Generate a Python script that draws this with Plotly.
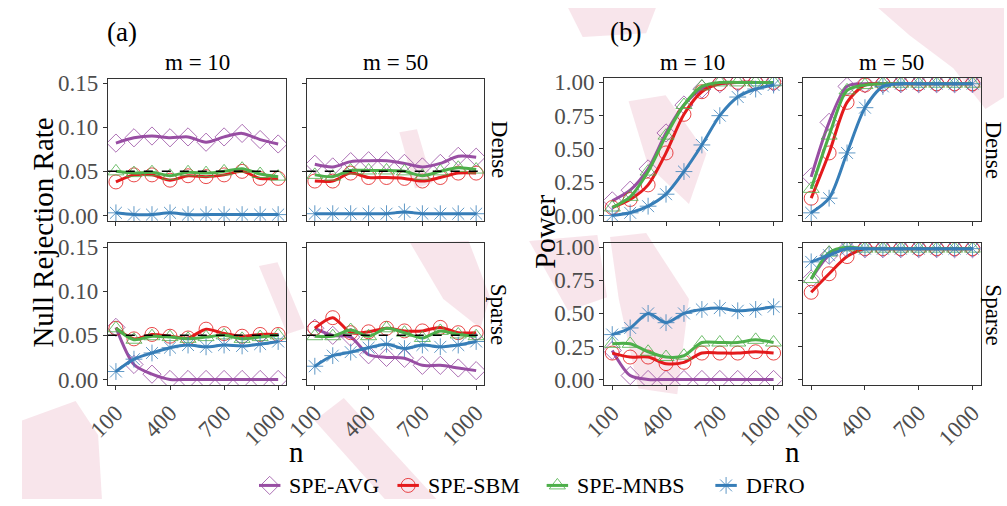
import plotly.graph_objects as go

# Sample sizes on the x axis
n_vals = [100, 200, 300, 400, 500, 600, 700, 800, 900, 1000]
methods = ["SPE-AVG", "SPE-SBM", "SPE-MNBS", "DFRO"]

# (a) Null rejection rate
size_m10_dense_avg = [0.082, 0.088, 0.090, 0.088, 0.089, 0.083, 0.089, 0.093, 0.086, 0.081]
size_m10_dense_sbm = [0.038, 0.046, 0.046, 0.040, 0.045, 0.044, 0.046, 0.050, 0.042, 0.042]
size_m10_dense_mnbs = [0.050, 0.048, 0.049, 0.045, 0.049, 0.048, 0.050, 0.053, 0.047, 0.044]
size_m10_dense_dfro = [0.003, 0.001, 0.001, 0.003, 0.001, 0.001, 0.001, 0.001, 0.001, 0.001]

size_m50_dense_avg = [0.058, 0.055, 0.061, 0.062, 0.062, 0.059, 0.055, 0.059, 0.067, 0.066]
size_m50_dense_sbm = [0.039, 0.039, 0.048, 0.043, 0.043, 0.042, 0.039, 0.043, 0.048, 0.048]
size_m50_dense_mnbs = [0.046, 0.044, 0.051, 0.051, 0.051, 0.050, 0.045, 0.050, 0.054, 0.052]
size_m50_dense_dfro = [0.002, 0.002, 0.002, 0.002, 0.002, 0.004, 0.002, 0.002, 0.002, 0.002]

size_m10_sparse_avg = [0.059, 0.017, 0.006, 0.000, 0.000, 0.000, 0.000, 0.000, 0.000, 0.000]
size_m10_sparse_sbm = [0.058, 0.046, 0.051, 0.049, 0.047, 0.057, 0.052, 0.049, 0.051, 0.051]
size_m10_sparse_mnbs = [0.058, 0.045, 0.049, 0.048, 0.046, 0.048, 0.050, 0.046, 0.048, 0.050]
size_m10_sparse_dfro = [0.009, 0.023, 0.030, 0.036, 0.039, 0.037, 0.039, 0.038, 0.040, 0.043]

size_m50_sparse_avg = [0.058, 0.050, 0.048, 0.028, 0.025, 0.024, 0.016, 0.016, 0.013, 0.010]
size_m50_sparse_sbm = [0.058, 0.070, 0.053, 0.054, 0.058, 0.055, 0.055, 0.059, 0.053, 0.053]
size_m50_sparse_mnbs = [0.049, 0.049, 0.056, 0.049, 0.058, 0.053, 0.047, 0.055, 0.051, 0.049]
size_m50_sparse_dfro = [0.015, 0.027, 0.031, 0.036, 0.040, 0.035, 0.039, 0.037, 0.039, 0.043]

# (b) Power
power_m10_dense_avg = [0.11, 0.19, 0.35, 0.62, 0.83, 0.95, 0.99, 1.00, 1.00, 1.00]
power_m10_dense_sbm = [0.06, 0.12, 0.23, 0.47, 0.76, 0.93, 0.99, 1.00, 1.00, 1.00]
power_m10_dense_mnbs = [0.06, 0.14, 0.33, 0.60, 0.83, 0.97, 1.00, 1.00, 1.00, 1.00]
power_m10_dense_dfro = [0.00, 0.02, 0.07, 0.16, 0.33, 0.53, 0.75, 0.89, 0.95, 0.98]

power_m50_dense_avg = [0.29, 0.70, 0.97, 0.99, 0.99, 0.99, 0.99, 0.99, 0.99, 0.99]
power_m50_dense_sbm = [0.13, 0.47, 0.85, 0.98, 0.99, 0.99, 0.99, 0.99, 0.99, 0.99]
power_m50_dense_mnbs = [0.20, 0.60, 0.94, 0.98, 0.99, 0.99, 0.99, 0.99, 0.99, 0.99]
power_m50_dense_dfro = [0.02, 0.13, 0.47, 0.81, 0.97, 0.99, 0.99, 0.99, 0.99, 0.99]

power_m10_sparse_avg = [0.22, 0.03, 0.00, 0.00, 0.00, 0.00, 0.00, 0.00, 0.00, 0.00]
power_m10_sparse_sbm = [0.20, 0.17, 0.17, 0.12, 0.13, 0.20, 0.20, 0.20, 0.21, 0.20]
power_m10_sparse_mnbs = [0.27, 0.27, 0.21, 0.17, 0.18, 0.28, 0.28, 0.28, 0.30, 0.28]
power_m10_sparse_dfro = [0.34, 0.39, 0.50, 0.43, 0.50, 0.53, 0.54, 0.52, 0.53, 0.55]

power_m50_sparse_avg = [0.76, 0.94, 0.99, 0.99, 0.99, 0.99, 0.99, 0.99, 0.99, 0.99]
power_m50_sparse_sbm = [0.66, 0.80, 0.93, 0.99, 0.99, 0.99, 0.99, 0.99, 0.99, 0.99]
power_m50_sparse_mnbs = [0.76, 0.96, 1.00, 0.99, 0.99, 0.99, 0.99, 0.99, 0.99, 0.99]
power_m50_sparse_dfro = [0.89, 0.94, 0.99, 0.99, 0.99, 0.99, 0.99, 0.99, 0.99, 0.99]

x_ticks = [100, 400, 700, 1000]
size_ticks = [0.00, 0.05, 0.10, 0.15]
size_tick_text = ["0.00", "0.05", "0.10", "0.15"]
power_ticks = [0.00, 0.25, 0.50, 0.75, 1.00]
power_tick_text = ["0.00", "0.25", "0.50", "0.75", "1.00"]
nominal_level = 0.05

colors = {"SPE-AVG": "#984EA3", "SPE-SBM": "#E41A1C", "SPE-MNBS": "#4DAF4A", "DFRO": "#377EB8"}
marker_colors = {"SPE-AVG": "rgba(152,78,163,0.8)", "SPE-SBM": "rgba(228,26,28,0.8)",
                 "SPE-MNBS": "rgba(77,175,74,0.8)", "DFRO": "rgba(55,126,184,0.8)"}
symbols = {"SPE-AVG": "diamond-open", "SPE-SBM": "circle-open",
           "SPE-MNBS": "triangle-up-open", "DFRO": "asterisk-open"}

W, H = 1007, 506
FONT = "Liberation Serif, Times New Roman, serif"


def px(x):
    return x / W


def py(y):
    return 1 - y / H


# (panel pixel box: left, right, top, bottom), series, y setup
panels = [
    ((88, 271, 73, 220), [size_m10_dense_avg, size_m10_dense_sbm, size_m10_dense_mnbs, size_m10_dense_dfro], "a", True, False),
    ((292, 474, 73, 220), [size_m50_dense_avg, size_m50_dense_sbm, size_m50_dense_mnbs, size_m50_dense_dfro], "a", False, False),
    ((88, 271, 242, 389), [size_m10_sparse_avg, size_m10_sparse_sbm, size_m10_sparse_mnbs, size_m10_sparse_dfro], "a", True, True),
    ((292, 474, 242, 389), [size_m50_sparse_avg, size_m50_sparse_sbm, size_m50_sparse_mnbs, size_m50_sparse_dfro], "a", False, True),
    ((597, 779, 72, 220), [power_m10_dense_avg, power_m10_dense_sbm, power_m10_dense_mnbs, power_m10_dense_dfro], "b", True, False),
    ((801, 983, 72, 220), [power_m50_dense_avg, power_m50_dense_sbm, power_m50_dense_mnbs, power_m50_dense_dfro], "b", False, False),
    ((597, 779, 242, 389), [power_m10_sparse_avg, power_m10_sparse_sbm, power_m10_sparse_mnbs, power_m10_sparse_dfro], "b", True, True),
    ((801, 983, 242, 389), [power_m50_sparse_avg, power_m50_sparse_sbm, power_m50_sparse_mnbs, power_m50_sparse_dfro], "b", False, True),
]

fig = go.Figure()
layout = {}

for i, (box, series, grp, show_y, show_x) in enumerate(panels, start=1):
    left, right, top, bottom = box
    xa = "x" if i == 1 else f"x{i}"
    ya = "y" if i == 1 else f"y{i}"
    for name, vals in zip(methods, series):
        fig.add_trace(go.Scatter(
            x=n_vals, y=vals, mode="lines+markers", name=name, showlegend=False,
            line=dict(color=colors[name], width=3, shape="spline", smoothing=0.8),
            marker=dict(symbol=symbols[name], size=14, color=marker_colors[name],
                        line=dict(width=1, color=marker_colors[name])),
            xaxis=xa, yaxis=ya,
        ))
    if grp == "a":
        fig.add_trace(go.Scatter(
            x=[55, 1045], y=[nominal_level, nominal_level], mode="lines",
            line=dict(color="black", width=1.5, dash="dash"),
            showlegend=False, hoverinfo="skip", xaxis=xa, yaxis=ya,
        ))
    axis_common = dict(showline=True, mirror=True, linecolor="#333333", linewidth=1,
                       showgrid=False, zeroline=False, ticks="outside", ticklen=4,
                       tickcolor="#333333", tickfont=dict(family=FONT, size=23, color="#4d4d4d"))
    xkey = "xaxis" if i == 1 else f"xaxis{i}"
    ykey = "yaxis" if i == 1 else f"yaxis{i}"
    layout[xkey] = dict(domain=[px(left), px(right)], anchor=ya, range=[55, 1045],
                        tickvals=x_ticks, ticktext=[str(v) for v in x_ticks],
                        showticklabels=show_x, tickangle=-45, **axis_common)
    if grp == "a":
        layout[ykey] = dict(domain=[py(bottom), py(top)], anchor=xa, range=[-0.0068, 0.1548],
                            tickvals=size_ticks, ticktext=size_tick_text, showticklabels=show_y, **axis_common)
    else:
        layout[ykey] = dict(domain=[py(bottom), py(top)], anchor=xa, range=[-0.045, 1.034],
                            tickvals=power_ticks, ticktext=power_tick_text, showticklabels=show_y, **axis_common)

# Legend row drawn on a hidden axis that spans the page in pixels
layout["xaxis9"] = dict(domain=[0, 1], range=[0, W], visible=False, fixedrange=True, anchor="y9")
layout["yaxis9"] = dict(domain=[0, 1], range=[-H, 0], visible=False, fixedrange=True, anchor="x9")
legend_x = {"SPE-AVG": 254, "SPE-SBM": 396, "SPE-MNBS": 549, "DFRO": 722}
legend_y = 492
for name in methods:
    cx = legend_x[name]
    fig.add_trace(go.Scatter(x=[cx - 11, cx + 11], y=[-legend_y, -legend_y], mode="lines", showlegend=False,
                             line=dict(color=colors[name], width=3), hoverinfo="skip",
                             xaxis="x9", yaxis="y9"))
    fig.add_trace(go.Scatter(x=[cx], y=[-legend_y], mode="markers", showlegend=False,
                             marker=dict(symbol=symbols[name], size=14, color=marker_colors[name],
                                         line=dict(width=1, color=marker_colors[name])),
                             hoverinfo="skip", xaxis="x9", yaxis="y9"))

fig.update_layout(**layout)

annotations = []


def txt(x, y, text, size, angle=0, anchor="center"):
    annotations.append(dict(x=px(x), y=py(y), xref="paper", yref="paper", text=text,
                            showarrow=False, textangle=angle, xanchor=anchor, yanchor="middle",
                            font=dict(family=FONT, size=size, color="black")))


txt(103, 25, "(a)", 27)
txt(619, 25, "(b)", 27)
for cx in [(88 + 271) / 2, (292 + 474) / 2, (597 + 779) / 2, (801 + 983) / 2]:
    txt(cx, 56, "m = 10" if cx < 280 or 560 < cx < 790 else "m = 50", 23)
txt(489, 146, "Dense", 23, 90)
txt(489, 316, "Sparse", 23, 90)
txt(996, 146, "Dense", 23, 90)
txt(996, 316, "Sparse", 23, 90)
txt(22, 231, "Null Rejection Rate", 29, -90)
txt(536, 231, "Power", 29, -90)
txt(281, 458, "n", 29)
txt(790, 458, "n", 29)
for name in methods:
    txt(legend_x[name] + 18, legend_y, name, 22, anchor="left")

# Faint pink mark across the page
wm_color = "rgba(205,70,110,0.14)"
wm_polys = [
    [(560, 0), (650, 0), (640, 26), (575, 30)],
    [(878, 0), (1007, 0), (1007, 92), (988, 104), (955, 62), (910, 28)],
    [(0, 425), (55, 405), (78, 440), (82, 506), (0, 506)],
    [(243, 266), (262, 262), (290, 330), (272, 336)],
    [(387, 128), (405, 125), (421, 180), (403, 186)],
    [(398, 242), (458, 240), (480, 298), (470, 330), (432, 300)],
    [(300, 425), (330, 402), (425, 506), (372, 506)],
    [(603, 236), (640, 232), (684, 300), (672, 398), (632, 392), (612, 300)],
    [(622, 96), (660, 90), (702, 150), (684, 202), (642, 162)],
    [(520, 240), (590, 234), (600, 298), (560, 312)],
]
shapes = []
for poly in wm_polys:
    path = "M " + " L ".join(f"{px(x):.4f},{py(y):.4f}" for x, y in poly) + " Z"
    shapes.append(dict(type="path", path=path, xref="paper", yref="paper",
                       fillcolor=wm_color, line=dict(width=0), layer="below"))

fig.update_layout(
    width=W, height=H, margin=dict(l=0, r=0, t=0, b=0),
    paper_bgcolor="white", plot_bgcolor="rgba(0,0,0,0)",
    annotations=annotations, shapes=shapes, showlegend=False,
)

fig.write_html("out.html")
